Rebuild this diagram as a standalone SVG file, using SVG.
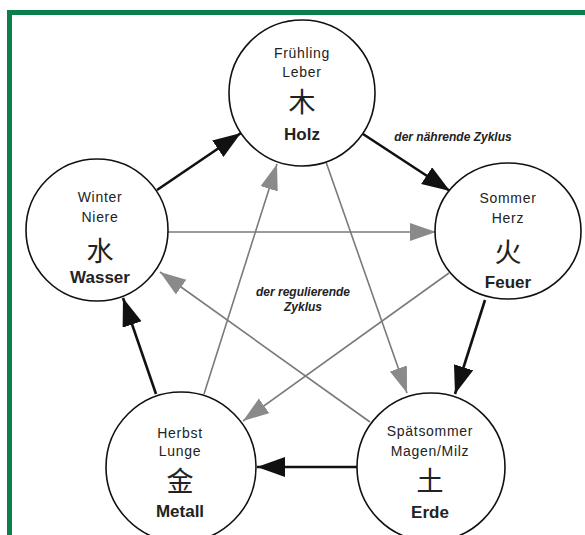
<svg xmlns="http://www.w3.org/2000/svg" width="585" height="535" viewBox="0 0 585 535">
<style>
.c{fill:#fff;stroke:#111;stroke-width:1.6}
.t{font-family:"Liberation Sans",Arial,sans-serif;font-size:14px;fill:#222;text-anchor:middle;letter-spacing:0.7px}
.b{font-family:"Liberation Sans",Arial,sans-serif;font-size:17px;font-weight:bold;fill:#222;text-anchor:middle}
.k{font-family:"Noto Sans CJK SC","Noto Sans CJK JP",sans-serif;font-size:27px;fill:#222;text-anchor:middle}
.z{font-family:"Liberation Sans",Arial,sans-serif;font-size:12px;font-style:italic;font-weight:bold;fill:#222;text-anchor:middle}
.o{stroke:#111;stroke-width:2.6;fill:none;marker-end:url(#ab)}
.i{stroke:#7a7a7a;stroke-width:1.6;fill:none;marker-end:url(#ag)}
</style>
<defs>
<marker id="ab" markerUnits="userSpaceOnUse" markerWidth="30" markerHeight="22" refX="28" refY="10" orient="auto"><path d="M0,0 L28,10 L0,20 z" fill="#111"/></marker>
<marker id="ag" markerUnits="userSpaceOnUse" markerWidth="30" markerHeight="22" refX="26" refY="9" orient="auto"><path d="M0,0 L26,9 L0,18 z" fill="#8a8a8a"/></marker>
</defs>
<rect width="585" height="535" fill="#fff"/>
<path d="M9.5,535 V12.5 H585" fill="none" stroke="#0b7f4b" stroke-width="5"/>
<g id="connectors">
<line class="o" x1="157" y1="190" x2="241" y2="133"/>
<line class="o" x1="363" y1="134" x2="450" y2="191"/>
<line class="o" x1="485" y1="300" x2="455" y2="394"/>
<line class="o" x1="357" y1="467" x2="257" y2="467"/>
<line class="o" x1="156" y1="394" x2="123" y2="298"/>
<line class="i" x1="326" y1="162" x2="407" y2="393"/>
<line class="i" x1="168" y1="232" x2="436" y2="232"/>
<line class="i" x1="449" y1="273" x2="243" y2="421"/>
<line class="i" x1="370" y1="422" x2="160" y2="272"/>
<line class="i" x1="204" y1="394" x2="277" y2="164"/>
<text class="z" x="453" y="141">der nährende Zyklus</text>
<text class="z" x="303" y="296">der regulierende</text>
<text class="z" x="303" y="311">Zyklus</text>
</g>
<g id="holz">
<circle class="c" cx="302" cy="93" r="73"/>
<text class="t" x="302" y="58">Frühling</text>
<text class="t" x="302" y="77">Leber</text>
<text class="k" x="302" y="112">木</text>
<text class="b" x="302" y="140">Holz</text>
</g>
<g id="feuer">
<ellipse class="c" cx="508" cy="231" rx="73" ry="68"/>
<text class="t" x="508" y="203">Sommer</text>
<text class="t" x="508" y="223">Herz</text>
<text class="k" x="508" y="262">火</text>
<text class="b" x="508" y="288">Feuer</text>
</g>
<g id="wasser">
<circle class="c" cx="97" cy="230" r="71"/>
<text class="t" x="100" y="202">Winter</text>
<text class="t" x="100" y="222">Niere</text>
<text class="k" x="100" y="261">水</text>
<text class="b" x="100" y="283">Wasser</text>
</g>
<g id="metall">
<circle class="c" cx="181" cy="467" r="75"/>
<text class="t" x="180" y="438">Herbst</text>
<text class="t" x="180" y="456">Lunge</text>
<text class="k" x="180" y="491">金</text>
<text class="b" x="180" y="517">Metall</text>
</g>
<g id="erde">
<circle class="c" cx="431" cy="467" r="74"/>
<text class="t" x="430" y="436">Spätsommer</text>
<text class="t" x="430" y="456">Magen/Milz</text>
<text class="k" x="430" y="491">土</text>
<text class="b" x="430" y="518">Erde</text>
</g>
</svg>
